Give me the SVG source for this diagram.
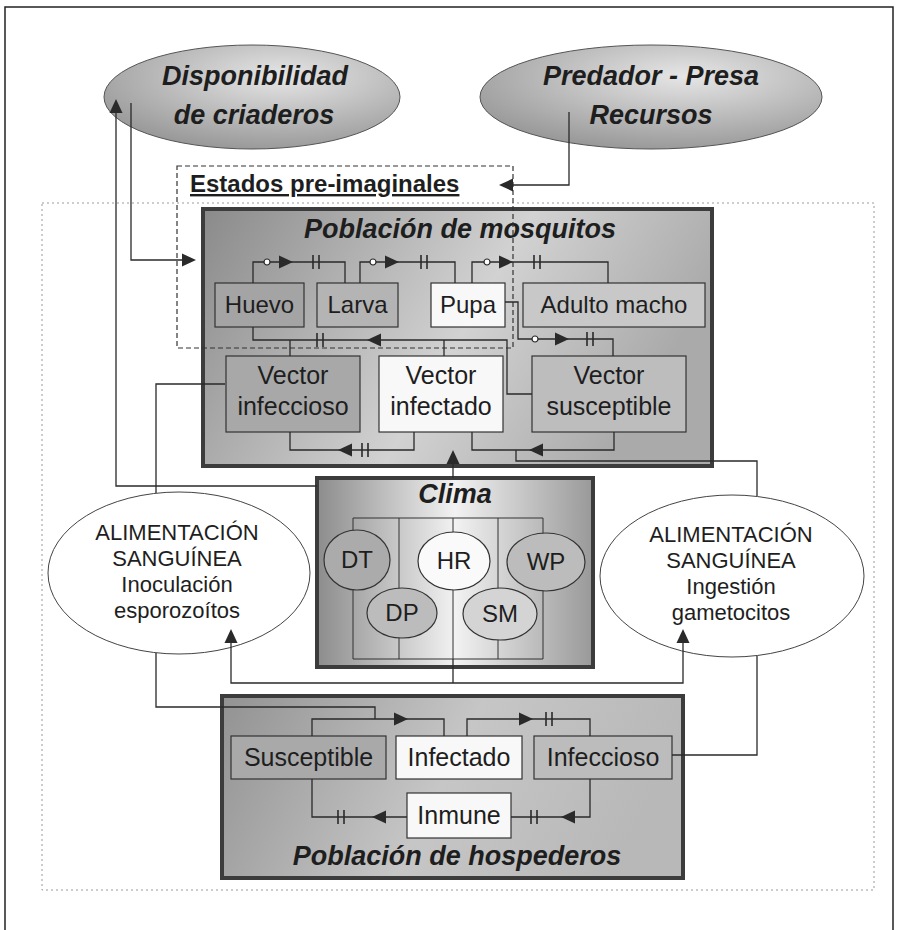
<svg xmlns="http://www.w3.org/2000/svg" xmlns:xlink="http://www.w3.org/1999/xlink" width="898" height="930" viewBox="0 0 898 930">
<style>
text{font-family:"Liberation Sans",Arial,sans-serif;fill:#1e1e1e;text-anchor:middle}
.tt{font-weight:bold;font-style:italic;font-size:27px}
.n{font-size:25px}
.s{font-size:24px}
.e{font-size:22px}
.node{stroke:#333;stroke-width:1.2}
.big{stroke:#3c3c3c;stroke-width:4}
.ln{fill:none;stroke:#2a2a2a;stroke-width:1.3}
.thin{fill:none;stroke:#333;stroke-width:1}
.vl{stroke:#2a2a2a;stroke-width:1.6}
.ah{fill:#2a2a2a}
.dot{fill:#fff;stroke:#2a2a2a;stroke-width:1.2}
</style>
<defs>
<linearGradient id="gBox" x1="0" y1="0" x2="1" y2="0.3">
<stop offset="0" stop-color="#8a8a8a"/><stop offset="0.6" stop-color="#d2d2d2"/><stop offset="1" stop-color="#aaaaaa"/>
</linearGradient>
<linearGradient id="gHost" x1="0" y1="0" x2="1" y2="0.2">
<stop offset="0" stop-color="#929292"/><stop offset="0.55" stop-color="#c6c6c6"/><stop offset="1" stop-color="#b8b8b8"/>
</linearGradient>
<linearGradient id="gClima" x1="0" y1="0" x2="1" y2="0">
<stop offset="0" stop-color="#8c8c8c"/><stop offset="0.5" stop-color="#f2f2f2"/><stop offset="1" stop-color="#999999"/>
</linearGradient>
<radialGradient id="gTop" cx="0.6" cy="0.3" r="0.75">
<stop offset="0" stop-color="#e6e6e6"/><stop offset="1" stop-color="#959595"/>
</radialGradient>
<path id="aR" class="ah" d="M0,0 L-14,-6.5 L-14,6.5 Z"/>
<path id="aL" class="ah" d="M0,0 L14,-6.5 L14,6.5 Z"/>
<path id="aU" class="ah" d="M0,0 L-6.5,14 L6.5,14 Z"/>
<g id="v"><line class="vl" x1="-3" y1="-7" x2="-3" y2="7"/><line class="vl" x1="3" y1="-7" x2="3" y2="7"/></g>
<circle id="o" class="dot" r="3"/>
</defs>

<rect width="898" height="930" fill="#fff"/>
<path d="M5,930 V7 H893 V930" fill="none" stroke="#222" stroke-width="1.5"/>
<rect x="42" y="203" width="832" height="687" fill="none" stroke="#9a9a9a" stroke-width="1" stroke-dasharray="2,3"/>

<g id="disponibilidad">
<ellipse cx="252" cy="97" rx="148" ry="52" fill="url(#gTop)" stroke="#555" stroke-width="1"/>
<text class="tt" x="255" y="85" font-size="26">Disponibilidad</text>
<text class="tt" x="254" y="124" font-size="26">de criaderos</text>
</g>
<g id="predador">
<ellipse cx="651" cy="97" rx="171" ry="52" fill="url(#gTop)" stroke="#555" stroke-width="1"/>
<text class="tt" x="651" y="85">Predador - Presa</text>
<text class="tt" x="651" y="124">Recursos</text>
</g>

<g id="mosquitos">
<rect class="big" x="203" y="209" width="509" height="257" fill="url(#gBox)"/>
<text class="tt" x="460" y="238">Población de mosquitos</text>
</g>
<g id="huevo"><rect class="node" x="215" y="283" width="89" height="44" fill="#a4a4a4"/><text class="s" x="259.5" y="313">Huevo</text></g>
<g id="larva"><rect class="node" x="317" y="283" width="81" height="44" fill="#b4b4b4"/><text class="s" x="357.5" y="313">Larva</text></g>
<g id="pupa"><rect class="node" x="431" y="283" width="74" height="44" fill="#f8f8f8"/><text class="s" x="468" y="313">Pupa</text></g>
<g id="adulto"><rect class="node" x="523" y="283" width="182" height="44" fill="#c8c8c8"/><text class="s" x="614" y="313">Adulto macho</text></g>
<g id="vinfeccioso"><rect class="node" x="226" y="356" width="134" height="76" fill="#a8a8a8"/><text class="n" x="293" y="384">Vector</text><text class="n" x="293" y="415">infeccioso</text></g>
<g id="vinfectado"><rect class="node" x="379" y="356" width="124" height="76" fill="#f8f8f8"/><text class="n" x="441" y="384">Vector</text><text class="n" x="441" y="415">infectado</text></g>
<g id="vsusceptible"><rect class="node" x="532" y="356" width="154" height="76" fill="#bdbdbd"/><text class="n" x="609" y="384">Vector</text><text class="n" x="609" y="415">susceptible</text></g>

<g id="estados">
<rect x="177" y="166" width="336" height="182" fill="none" stroke="#333" stroke-width="1.2" stroke-dasharray="5,3"/>
<text x="190" y="192" font-size="24" font-weight="bold" text-decoration="underline" style="text-anchor:start">Estados pre-imaginales</text>
</g>

<g id="clima">
<rect class="big" x="317" y="478" width="276" height="189" fill="url(#gClima)"/>
<text class="tt" x="455" y="503">Clima</text>
<path class="thin" d="M353,518 H543 M353,659 H543 M353,518 V659 M399,518 V659 M498,518 V659 M543,518 V659 M453,518 V659"/>
</g>
<g id="dt"><ellipse class="node" cx="357" cy="560" rx="33" ry="30" fill="#ababab"/><text class="s" x="357" y="568">DT</text></g>
<g id="hr"><ellipse class="node" cx="454" cy="561" rx="36" ry="29" fill="#fafafa"/><text class="s" x="454" y="569">HR</text></g>
<g id="wp"><ellipse class="node" cx="546" cy="562" rx="39" ry="29" fill="#bcbcbc"/><text class="s" x="546" y="570">WP</text></g>
<g id="dp"><ellipse class="node" cx="402" cy="613" rx="35" ry="25" fill="#bcbcbc"/><text class="s" x="402" y="621">DP</text></g>
<g id="sm"><ellipse class="node" cx="500" cy="614" rx="37" ry="26" fill="#d4d4d4"/><text class="s" x="500" y="622">SM</text></g>

<g id="alim-inoc">
<ellipse cx="179" cy="573" rx="131" ry="81" fill="#fff" stroke="#444" stroke-width="1"/>
<text class="e" x="177" y="540">ALIMENTACIÓN</text>
<text class="e" x="177" y="566">SANGUÍNEA</text>
<text class="e" x="177" y="592">Inoculación</text>
<text class="e" x="177" y="618">esporozoítos</text>
</g>
<g id="alim-ing">
<ellipse cx="732" cy="576" rx="132" ry="81" fill="#fff" stroke="#444" stroke-width="1"/>
<text class="e" x="731" y="542">ALIMENTACIÓN</text>
<text class="e" x="731" y="568">SANGUÍNEA</text>
<text class="e" x="731" y="594">Ingestión</text>
<text class="e" x="731" y="620">gametocitos</text>
</g>

<g id="hospederos">
<rect class="big" x="222" y="696" width="461" height="182" fill="url(#gHost)"/>
<text class="tt" x="457" y="865">Población de hospederos</text>
</g>
<g id="h-susceptible"><rect class="node" x="231" y="736" width="155" height="43" fill="#a9a9a9"/><text class="n" x="308.5" y="766">Susceptible</text></g>
<g id="h-infectado"><rect class="node" x="396" y="736" width="126" height="43" fill="#f8f8f8"/><text class="n" x="459" y="766">Infectado</text></g>
<g id="h-infeccioso"><rect class="node" x="534" y="736" width="138" height="43" fill="#bcbcbc"/><text class="n" x="603" y="766">Infeccioso</text></g>
<g id="h-inmune"><rect class="node" x="407" y="793" width="104" height="45" fill="#f8f8f8"/><text class="n" x="459" y="824">Inmune</text></g>

<g id="connectors">
<path class="ln" d="M253,283 V262 H345 V283"/>
<use href="#o" x="267" y="262"/><use href="#aR" x="293" y="262"/><use href="#v" x="316" y="262"/>
<path class="ln" d="M360,283 V262 H455 V283"/>
<use href="#o" x="373" y="262"/><use href="#aR" x="399" y="262"/><use href="#v" x="424" y="262"/>
<path class="ln" d="M472,283 V262 H608 V283"/>
<use href="#o" x="487" y="262"/><use href="#aR" x="513" y="262"/><use href="#v" x="537" y="262"/>
<path class="ln" d="M505,302 H518 V339 H613 V356"/>
<use href="#o" x="535" y="339"/><use href="#aR" x="569" y="339"/><use href="#v" x="590" y="339"/>
<path class="ln" d="M532,394 H507 V340 H253 V327 M290,340 V356 M444,340 V356"/>
<use href="#aL" x="367" y="340"/><use href="#v" x="320" y="340"/>
<path class="ln" d="M414,432 V450 H290 V432"/>
<use href="#aL" x="338" y="450"/><use href="#v" x="365" y="450"/>
<path class="ln" d="M614,432 V450 H472 V432"/>
<use href="#aL" x="529" y="450"/>
<path class="ln" d="M516,450 V461 H757 V496"/>
<path class="ln" d="M453,478 V462"/>
<use href="#aU" x="453" y="450"/>
<path class="ln" d="M453,659 V683 M231,641 V683 H683 V641"/>
<use href="#aU" x="231" y="629"/><use href="#aU" x="683" y="629"/>
<path class="ln" d="M317,486 H116 V112"/>
<use href="#aU" x="116" y="99"/>
<path class="ln" d="M131,103 V260 H183"/>
<use href="#aR" x="196" y="260"/>
<path class="ln" d="M569,112 V185 H512"/>
<use href="#aL" x="499" y="185"/>
<path class="ln" d="M225,384 H156 V493 M156,653 V707 H375 V719"/>
<path class="ln" d="M672,755 H757 V656"/>
<path class="ln" d="M312,736 V719 H444 V736"/>
<use href="#aR" x="408" y="719"/>
<path class="ln" d="M467,736 V719 H590 V736"/>
<use href="#aR" x="533" y="719"/><use href="#v" x="549" y="719"/>
<path class="ln" d="M590,779 V817 H511"/>
<use href="#aL" x="561" y="817"/><use href="#v" x="534" y="817"/>
<path class="ln" d="M407,817 H312 V779"/>
<use href="#aL" x="372" y="817"/><use href="#v" x="341" y="817"/>
</g>
</svg>
